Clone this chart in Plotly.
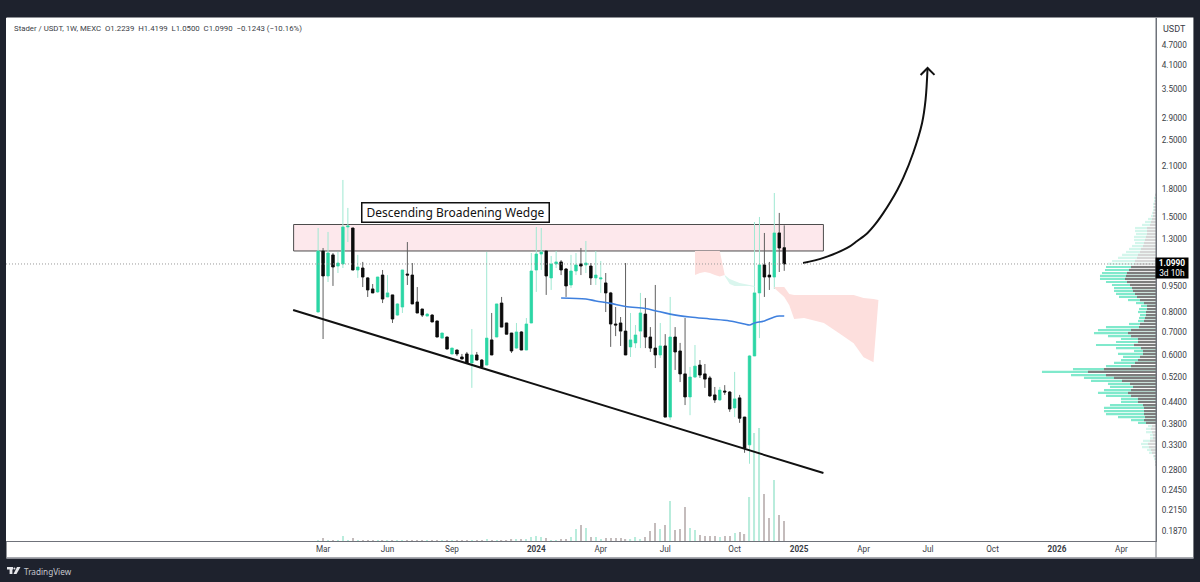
import plotly.graph_objects as go

# weekly bars, first bar is 2023-02-27, x axis counts bars like the TradingView time scale
opens = [0.799, 1.198, 1.015, 1.167, 1.084, 1.099, 1.405, 1.395, 1.056, 1.070,
         1.002, 0.931, 0.913, 1.021, 0.883, 0.895, 0.783, 0.826, 1.028, 1.021,
         0.854, 0.815, 0.778, 0.783, 0.753, 0.672, 0.677, 0.605, 0.621, 0.593,
         0.605, 0.570, 0.601, 0.581, 0.562, 0.664, 0.677, 0.848, 0.743, 0.695,
         0.629, 0.700, 0.621, 0.743, 1.056, 1.174, 1.198, 1.002, 1.099, 1.114,
         1.063, 0.956, 1.049, 1.099, 1.092, 1.084, 1.002, 0.995, 0.969, 0.907,
         0.738, 0.743, 0.704, 0.634, 0.651, 0.704, 0.788, 0.677, 0.629, 0.601,
         0.638, 0.398, 0.677, 0.617, 0.530, 0.455, 0.519, 0.562, 0.530, 0.516,
         0.461, 0.446, 0.473, 0.470, 0.423, 0.452, 0.398, 0.331, 0.597, 0.907,
         1.092, 1.021, 1.008, 1.350, 1.2239]
highs = [1.395, 1.222, 1.359, 1.182, 1.190, 1.919, 1.594, 1.395, 1.167, 1.114,
         1.008, 0.962, 1.008, 1.056, 1.021, 0.895, 0.848, 1.056, 1.271, 1.106,
         0.943, 0.815, 0.794, 0.788, 0.753, 0.695, 0.677, 0.629, 0.621, 0.605,
         0.613, 0.714, 0.613, 0.585, 1.190, 0.794, 0.843, 0.883, 0.743, 0.695,
         0.743, 0.704, 0.768, 1.182, 1.405, 1.395, 1.198, 1.159, 1.198, 1.128,
         1.070, 1.167, 1.182, 1.222, 1.280, 1.106, 1.198, 1.121, 1.035, 0.913,
         0.826, 0.773, 1.106, 0.794, 0.733, 0.907, 0.877, 0.723, 0.956, 0.743,
         0.690, 0.883, 0.723, 0.651, 0.768, 0.555, 0.642, 0.581, 0.566, 0.523,
         0.486, 0.486, 0.492, 0.473, 0.537, 0.461, 0.398, 0.601, 1.452, 1.501,
         1.350, 1.114, 1.760, 1.542, 1.4199]
lows = [0.799, 0.668, 0.975, 0.950, 1.035, 1.070, 1.271, 1.056, 1.002, 0.943,
        0.883, 0.907, 0.907, 0.848, 0.883, 0.743, 0.778, 0.794, 0.956, 0.843,
        0.794, 0.773, 0.778, 0.748, 0.677, 0.672, 0.625, 0.605, 0.597, 0.585,
        0.570, 0.483, 0.581, 0.551, 0.562, 0.601, 0.677, 0.723, 0.690, 0.609,
        0.625, 0.621, 0.621, 0.743, 0.913, 1.056, 0.895, 0.925, 1.070, 1.021,
        0.883, 0.937, 1.021, 1.021, 1.035, 0.956, 0.956, 0.907, 0.799, 0.634,
        0.681, 0.638, 0.601, 0.593, 0.629, 0.629, 0.629, 0.613, 0.551, 0.589,
        0.398, 0.390, 0.544, 0.502, 0.431, 0.403, 0.516, 0.516, 0.483, 0.455,
        0.437, 0.443, 0.461, 0.412, 0.398, 0.383, 0.314, 0.292, 0.597, 0.672,
        0.883, 0.925, 0.931, 1.042, 1.0500]
closes = [1.198, 1.015, 1.182, 1.077, 1.106, 1.405, 1.414, 1.056, 1.077, 1.008,
          0.925, 0.907, 1.008, 0.871, 0.907, 0.763, 0.843, 1.056, 1.021, 0.843,
          0.794, 0.783, 0.788, 0.748, 0.677, 0.695, 0.625, 0.629, 0.605, 0.585,
          0.570, 0.601, 0.581, 0.555, 0.672, 0.601, 0.843, 0.723, 0.690, 0.617,
          0.700, 0.621, 0.738, 1.049, 1.174, 1.190, 1.015, 1.099, 1.114, 1.056,
          0.950, 1.049, 1.092, 1.084, 1.106, 1.002, 1.021, 1.002, 0.907, 0.738,
          0.733, 0.704, 0.601, 0.664, 0.686, 0.794, 0.677, 0.629, 0.601, 0.638,
          0.398, 0.677, 0.613, 0.530, 0.455, 0.519, 0.558, 0.526, 0.512, 0.458,
          0.446, 0.476, 0.470, 0.420, 0.449, 0.395, 0.324, 0.597, 0.907, 1.092,
          1.008, 1.008, 1.350, 1.222, 1.0990]
volume = [1, 3, 1, 1, 1, 5, 1, 3, 1, 1,
          1, 1, 1, 1, 1, 1, 1, 1, 1, 1,
          1, 1, 1, 1, 1, 1, 1, 1, 1, 1,
          1, 1, 1, 1, 2, 1, 1, 1, 1, 2,
          2, 2, 2, 4, 5, 4, 3, 1, 1, 2,
          2, 4, 12, 16, 13, 4, 4, 2, 3, 3,
          3, 3, 2, 1.5, 4, 2, 4, 10, 18, 12,
          16, 40, 11, 12, 34, 13, 11, 6, 5, 5,
          5, 4, 5, 5, 8, 9, 7, 44, 108, 113,
          47, 23, 61, 26, 20]
weeks = list(range(len(closes)))

ma_weeks = [49, 54, 56, 59, 62, 66, 68, 71, 75, 79, 83, 86, 87, 88, 90, 92, 93, 94]
ma_values = [0.877, 0.871, 0.860, 0.846, 0.829, 0.818, 0.806, 0.788, 0.773, 0.763,
             0.753, 0.738, 0.733, 0.743, 0.753, 0.773, 0.778, 0.778]

# cloud pieces
pink1_weeks = [76, 77, 78, 79, 80, 81, 82]
pink1_top = [1.198, 1.198, 1.198, 1.198, 1.198, 1.198, 1.021]
pink1_bottom = [1.021, 1.035, 1.042, 1.035, 1.021, 1.012, 1.021]
green_weeks = [82, 83, 84, 85, 86, 87, 88]
green_top = [1.021, 0.995, 0.982, 0.969, 0.962, 0.956, 0.950]
green_bottom = [1.015, 0.962, 0.950, 0.950, 0.950, 0.950, 0.943]
pink2_weeks = [92, 94, 95, 96, 98, 102, 105, 108, 110, 112, 113]
pink2_top = [0.943, 0.943, 0.900, 0.895, 0.895, 0.895, 0.895, 0.895, 0.877, 0.871, 0.865]
pink2_bottom = [0.937, 0.883, 0.837, 0.763, 0.768, 0.743, 0.695, 0.650, 0.592, 0.573, 0.865]

# volume profile rows, price level / total / grey part
profile_price = [1.737, 1.703, 1.670, 1.637, 1.604, 1.573, 1.542, 1.511, 1.481, 1.452,
                 1.424, 1.395, 1.368, 1.341, 1.315, 1.289, 1.263, 1.238, 1.214, 1.190,
                 1.167, 1.144, 1.121, 1.099, 1.077, 1.056, 1.035, 1.015, 0.995, 0.975,
                 0.956, 0.937, 0.919, 0.901, 0.883, 0.865, 0.848, 0.832, 0.815, 0.799,
                 0.783, 0.768, 0.753, 0.738, 0.723, 0.709, 0.695, 0.681, 0.668, 0.655,
                 0.642, 0.629, 0.617, 0.605, 0.593, 0.581, 0.570, 0.558, 0.547, 0.537,
                 0.526, 0.516, 0.506, 0.496, 0.486, 0.476, 0.467, 0.458, 0.449, 0.440,
                 0.431, 0.423, 0.414, 0.406, 0.398, 0.390, 0.383, 0.375, 0.368, 0.360,
                 0.353, 0.346, 0.340, 0.333, 0.326, 0.320, 0.314, 0.307, 0.301, 0.295,
                 0.290]
profile_total = [1, 2, 2, 3, 3, 3, 4, 5, 8, 11,
                 14, 21, 21, 20, 22, 22, 21, 24, 27, 30,
                 34, 38, 44, 48, 50, 51, 54, 56, 56, 50,
                 44, 42, 42, 40, 37, 28, 20, 15, 17, 18,
                 16, 17, 18, 27, 50, 58, 62, 48, 35, 40,
                 60, 40, 22, 38, 33, 35, 42, 50, 83, 114,
                 85, 72, 65, 48, 46, 52, 58, 50, 35, 35,
                 46, 52, 52, 50, 38, 25, 18, 8, 10, 10,
                 6, 6, 13, 15, 14, 9, 7, 3, 2, 1,
                 1]
profile_grey = [1, 1, 1, 2, 2, 2, 3, 3, 4, 5,
                6, 9, 9, 9, 10, 11, 12, 13, 15, 16,
                18, 19, 21, 22, 25, 27, 29, 30, 31, 29,
                26, 24, 23, 21, 19, 16, 12, 9, 9, 10,
                10, 11, 12, 16, 17, 25, 28, 25, 18, 18,
                22, 15, 13, 13, 16, 18, 21, 25, 52, 68,
                50, 42, 34, 26, 23, 25, 28, 25, 18, 18,
                13, 12, 12, 12, 11, 12, 10, 4, 5, 4,
                3, 3, 6, 8, 7, 5, 4, 2, 1, 1,
                1]

# forecast arrow
arc_weeks = [97.8, 101.9, 106.7, 108.7, 110.8, 112.4, 114.0, 115.4, 116.8, 118.0, 120.0, 121.8, 122.5, 122.9]
arc_prices = [1.106, 1.144, 1.222, 1.280, 1.350, 1.433, 1.542, 1.658, 1.796, 1.945, 2.295, 2.801, 3.263, 4.035]
head_weeks = [121.5, 122.9, 124.3]
head_prices = [3.852, 4.035, 3.852]

y_ticks = [4.7, 4.1, 3.5, 2.9, 2.5, 2.1, 1.8, 1.5, 1.3, 0.95, 0.8, 0.7, 0.6,
           0.52, 0.44, 0.38, 0.33, 0.28, 0.245, 0.215, 0.187]
x_tick_weeks = [1, 14, 27, 44, 57, 70, 84, 97, 110, 123, 136, 149, 162]
x_tick_labels = ["Mar", "Jun", "Sep", "<b>2024</b>", "Apr", "Jul", "Oct", "<b>2025</b>",
                 "Apr", "Jul", "Oct", "<b>2026</b>", "Apr"]

last_price = 1.099
GREEN = "#2bd6a5"
BLACK = "#0b0b0b"
BG = "#1e222d"
TICK_FONT = dict(family="Roboto", size=8.2, color="#3a3d46")


def px_x(x):
    return (x - 6) / 1149.6


def px_y(y):
    return (541 - y) / 523


def segments(rows):
    xs, ys = [], []
    for price, length in rows:
        xs += [0, length, None]
        ys += [price, price, None]
    return xs, ys


fig = go.Figure()

fig.add_trace(go.Scatter(x=pink1_weeks + pink1_weeks[::-1], y=pink1_top + pink1_bottom[::-1],
                         fill="toself", fillcolor="#fddfdd", mode="none"))
fig.add_trace(go.Scatter(x=green_weeks + green_weeks[::-1], y=green_top + green_bottom[::-1],
                         fill="toself", fillcolor="#daf6ee", mode="none"))
fig.add_trace(go.Scatter(x=pink2_weeks + pink2_weeks[::-1], y=pink2_top + pink2_bottom[::-1],
                         fill="toself", fillcolor="#fddfdd", mode="none"))

# wicks first in their paler colour, then the solid bodies on top
fig.add_trace(go.Candlestick(
    x=weeks, open=opens, high=highs, low=lows, close=closes,
    increasing=dict(fillcolor=GREEN, line=dict(color="#9fe8d2", width=1)),
    decreasing=dict(fillcolor=BLACK, line=dict(color="#5f5f5f", width=1)),
))
fig.add_trace(go.Candlestick(
    x=weeks, open=opens, close=closes,
    high=[max(o, c) for o, c in zip(opens, closes)],
    low=[min(o, c) for o, c in zip(opens, closes)],
    increasing=dict(fillcolor=GREEN, line=dict(color=GREEN, width=0.5)),
    decreasing=dict(fillcolor=BLACK, line=dict(color=BLACK, width=0.5)),
))

fig.add_trace(go.Scatter(x=ma_weeks, y=ma_values, mode="lines",
                         line=dict(color="#3f80de", width=1.6, shape="spline")))

fig.add_trace(go.Scatter(x=arc_weeks, y=arc_prices, mode="lines",
                         line=dict(color="#111111", width=2, shape="spline")))
fig.add_trace(go.Scatter(x=head_weeks, y=head_prices, mode="lines",
                         line=dict(color="#111111", width=2)))

vol_colors = ["#b9ecdc" if c >= o else "#c4bcbc" for o, c in zip(opens, closes)]
fig.add_trace(go.Bar(x=weeks, y=volume, width=0.24, marker=dict(color=vol_colors, line_width=0),
                     yaxis="y2"))

# volume profile, value area is the darker part
inside = [i for i, p in enumerate(profile_price) if 0.38 <= p <= 1.08]
outside = [i for i, p in enumerate(profile_price) if not 0.38 <= p <= 1.08]
for idx, green_col, grey_col in [(outside, "#d4f6ec", "#d6d6d6"), (inside, "#80e9cc", "#7d7d7d")]:
    for values, col in [(profile_total, green_col), (profile_grey, grey_col)]:
        xs, ys = segments([(profile_price[i], values[i]) for i in idx])
        fig.add_trace(go.Scatter(x=xs, y=ys, mode="lines", xaxis="x2",
                                 line=dict(color=col, width=2.2)))

fig.update_layout(
    width=1200,
    height=582,
    margin=dict(l=6, r=44.4, t=18, b=41),
    paper_bgcolor=BG,
    plot_bgcolor="white",
    showlegend=False,
    hovermode=False,
    xaxis=dict(range=[-62.94, 168.97], showgrid=False, zeroline=False, rangeslider_visible=False,
               tickmode="array", tickvals=x_tick_weeks, ticktext=x_tick_labels,
               tickfont=TICK_FONT, ticks="",
               showline=True, linecolor="#6f727a", linewidth=1),
    yaxis=dict(type="log", range=[-0.7572, 0.7497], side="right", showgrid=False, zeroline=False,
               tickmode="array", tickvals=y_ticks, ticktext=[f"{t:.4f}" for t in y_ticks],
               tickfont=TICK_FONT, ticks="outside", ticklen=3, tickcolor="rgba(0,0,0,0)",
               showline=True, linecolor="#6f727a", linewidth=1),
    yaxis2=dict(overlaying="y", range=[0, 523], visible=False, fixedrange=True),
    xaxis2=dict(overlaying="x", range=[1149.6, 0], visible=False, fixedrange=True),
    shapes=[
        # white panel behind plot and both axes
        dict(type="rect", xref="paper", yref="paper", layer="below", line_width=0, fillcolor="white",
             x0=px_x(6.5), x1=px_x(1193), y0=px_y(558.5), y1=px_y(17.5)),
        dict(type="line", xref="paper", yref="paper", line=dict(color="#6f727a", width=1),
             x0=1, x1=1, y0=px_y(558), y1=1),
        dict(type="line", xref="paper", yref="paper", line=dict(color="#8b8e96", width=1.5),
             x0=px_x(6.5), x1=px_x(1193), y0=px_y(558), y1=px_y(558)),
        # resistance zone
        dict(type="rect", xref="x", yref="y", layer="below", x0=-4.94, x1=101.9, y0=1.198, y1=1.428,
             fillcolor="#fde8ec", line=dict(color="#4c4c4c", width=1)),
        # last price
        dict(type="line", xref="x", yref="y", x0=-62.94, x1=168.97, y0=last_price, y1=last_price,
             line=dict(color="#9a9a9a", width=1, dash="1px,2px")),
        # lower wedge line
        dict(type="line", xref="x", yref="y", x0=-5.04, x1=101.9, y0=0.810, y1=0.2745,
             line=dict(color="#111111", width=2)),
        # TradingView logo
        dict(type="rect", xref="paper", yref="paper", line_width=0, fillcolor="#e6e7ea",
             x0=px_x(7), x1=px_x(13), y0=px_y(569.5), y1=px_y(567)),
        dict(type="rect", xref="paper", yref="paper", line_width=0, fillcolor="#e6e7ea",
             x0=px_x(9.6), x1=px_x(12.4), y0=px_y(574), y1=px_y(567)),
        dict(type="circle", xref="paper", yref="paper", line_width=0, fillcolor="#e6e7ea",
             x0=px_x(13.4), x1=px_x(15.4), y0=px_y(569.5), y1=px_y(567.5)),
        dict(type="path", xref="paper", yref="paper", line_width=0, fillcolor="#e6e7ea",
             path=f"M {px_x(17)} {px_y(567)} L {px_x(20.5)} {px_y(567)} "
                  f"L {px_x(16.5)} {px_y(574)} L {px_x(13.5)} {px_y(574)} Z"),
    ],
    annotations=[
        dict(xref="paper", yref="paper", x=px_x(11.5), y=px_y(28.5), xanchor="left", yanchor="middle",
             showarrow=False, font=dict(family="Roboto", size=7.8, color="#3a3d46"),
             text="Stader / USDT, 1W, MEXC  O1.2239  H1.4199  L1.0500  C1.0990  −0.1243 (−10.16%)"),
        dict(xref="paper", yref="paper", x=px_x(1174), y=px_y(29), xanchor="center", yanchor="middle",
             showarrow=False, font=dict(family="Roboto", size=9, color="#3a3d46"), text="USDT"),
        dict(xref="paper", yref="paper", x=px_x(1172), y=px_y(268), xanchor="center", yanchor="middle",
             showarrow=False, bgcolor="#000000", borderpad=0, align="center", width=32, height=20,
             font=dict(family="Roboto", size=8.4, color="white"),
             text="<b>1.0990</b><br>3d 10h"),
        dict(xref="paper", yref="paper", x=px_x(455), y=px_y(212.5), xanchor="center", yanchor="middle",
             showarrow=False, bgcolor="white", bordercolor="#111111", borderwidth=1.5, borderpad=1,
             width=184, height=16,
             font=dict(family="Noto Sans", size=12, color="#111111"),
             text="Descending Broadening Wedge"),
        dict(xref="paper", yref="paper", x=px_x(21.5), y=px_y(571), xanchor="left", yanchor="middle",
             showarrow=False, font=dict(family="Noto Sans", size=8.2, color="#c6c8ce"),
             text="TradingView"),
    ],
)

# the page must fill the window exactly, browsers add a body margin by default
fig.write_html("out.html", config={"displayModeBar": False},
               post_script="document.body.style.margin='0';document.body.style.overflow='hidden';")
